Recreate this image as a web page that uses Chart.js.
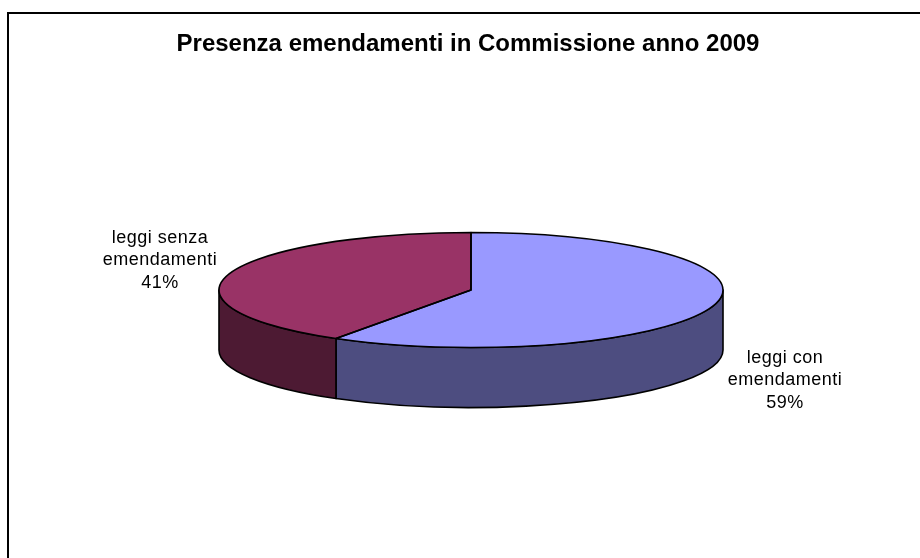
<!DOCTYPE html>
<html>
<head>
<meta charset="utf-8">
<script src="https://cdn.jsdelivr.net/npm/chart.js@4.4.1/dist/chart.umd.min.js"></script>
<style>
  html, body { margin: 0; padding: 0; background: #ffffff; }
  #c { display: block; }
</style>
</head>
<body>
<canvas id="c" width="920" height="558"></canvas>
<script>
// ---- data ----
const titleText = 'Presenza emendamenti in Commissione anno 2009';
const categories = [['leggi con', 'emendamenti'], ['leggi senza', 'emendamenti']];
const values = [59, 41];
const topColors = ['#9999FF', '#993366'];
const sideColors = ['#4D4D80', '#4D1A33'];

// ---- layout (not data) ----
const geom = { cx: 471, cy: 290, rx: 252, ry: 57.5, depth: 60 };
const labelLayout = [{ x: 785, y: 363 }, { x: 160, y: 243 }];
const labelLineStep = 22.3;
const FONT = '"Liberation Sans", Arial, Helvetica, sans-serif';

function arcProps(arc) {
  return arc.getProps(['x', 'y', 'startAngle', 'endAngle', 'outerRadius'], true);
}

const pie3d = {
  id: 'pie3d',
  beforeDatasetsDraw(chart) {
    const ctx = chart.ctx;
    const meta = chart.getDatasetMeta(0);
    const { cx, cy, rx, ry, depth } = geom;
    // side walls (front-facing part: angles 0..PI)
    meta.data.forEach((arc, i) => {
      const p = arcProps(arc);
      const a1 = Math.max(p.startAngle, 0);
      const a2 = Math.min(p.endAngle, Math.PI);
      if (a2 <= a1) return;
      ctx.save();
      ctx.beginPath();
      ctx.ellipse(cx, cy, rx, ry, 0, a1, a2, false);
      ctx.lineTo(cx + rx * Math.cos(a2), cy + depth + ry * Math.sin(a2));
      ctx.ellipse(cx, cy + depth, rx, ry, 0, a2, a1, true);
      ctx.closePath();
      ctx.fillStyle = sideColors[i];
      ctx.fill();
      ctx.lineWidth = 1.6;
      ctx.lineJoin = 'round';
      ctx.strokeStyle = '#000';
      ctx.stroke();
      ctx.restore();
    });
    // squash the library's pie into the top ellipse
    const p0 = arcProps(meta.data[0]);
    const R = p0.outerRadius;
    ctx.save();
    ctx.translate(cx, cy);
    ctx.scale(rx / R, ry / R);
    ctx.translate(-p0.x, -p0.y);
  },
  afterDatasetsDraw(chart) {
    const ctx = chart.ctx;
    ctx.restore();
    const meta = chart.getDatasetMeta(0);
    const { cx, cy, rx, ry } = geom;
    // top face outlines
    meta.data.forEach((arc) => {
      const p = arcProps(arc);
      ctx.save();
      ctx.beginPath();
      ctx.moveTo(cx, cy);
      ctx.ellipse(cx, cy, rx, ry, 0, p.startAngle, p.endAngle, false);
      ctx.closePath();
      ctx.lineWidth = 1.6;
      ctx.lineJoin = 'round';
      ctx.strokeStyle = '#000';
      ctx.stroke();
      ctx.restore();
    });
  },
  afterDraw(chart) {
    const ctx = chart.ctx;
    const total = values.reduce((a, b) => a + b, 0);
    ctx.save();
    ctx.font = '18px ' + FONT;
    ctx.letterSpacing = '0.5px';
    ctx.textAlign = 'center';
    ctx.textBaseline = 'alphabetic';
    ctx.fillStyle = '#000';
    categories.forEach((lines, i) => {
      const pos = labelLayout[i];
      const all = lines.concat([Math.round(values[i] / total * 100) + '%']);
      all.forEach((t, k) => ctx.fillText(t, pos.x, pos.y + k * labelLineStep));
    });
    ctx.restore();
    // chart frame (left and top edges visible)
    ctx.save();
    ctx.lineWidth = 2;
    ctx.strokeStyle = '#000';
    ctx.strokeRect(8, 13, 1200, 1200);
    ctx.restore();
  }
};

new Chart(document.getElementById('c'), {
  type: 'pie',
  data: {
    labels: categories,
    datasets: [{
      data: values,
      backgroundColor: topColors,
      borderWidth: 0,
      clip: false
    }]
  },
  options: {
    responsive: false,
    animation: false,
    events: [],
    layout: { padding: { left: 16 } },
    plugins: {
      legend: { display: false },
      tooltip: { enabled: false },
      title: {
        display: true,
        text: titleText,
        color: '#000',
        font: { family: FONT, size: 24, weight: 'bold' },
        padding: { top: 30, bottom: 10 }
      }
    }
  },
  plugins: [pie3d]
});
</script>
</body>
</html>
